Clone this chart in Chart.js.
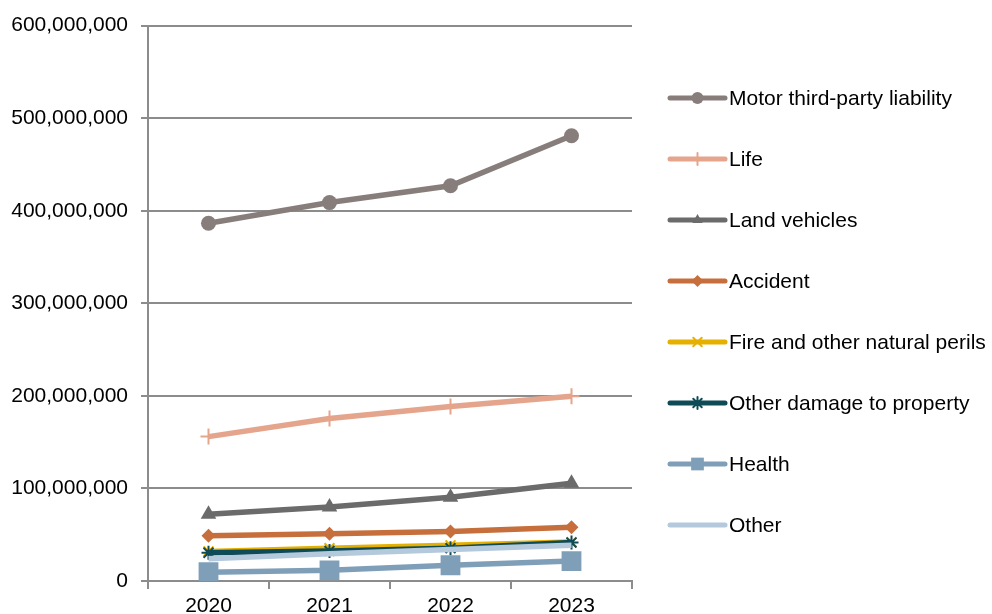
<!DOCTYPE html>
<html>
<head>
<meta charset="utf-8">
<script src="https://cdn.jsdelivr.net/npm/chart.js@4/dist/chart.umd.min.js"></script>
<style>
  html, body { margin: 0; padding: 0; background: #fff; }
  #wrap { width: 992px; height: 614px; position: relative; }
</style>
</head>
<body>
<div id="wrap"><canvas id="chart" width="992" height="614"></canvas></div>
<script>
// --- data ---------------------------------------------------------------
const years = ['2020', '2021', '2022', '2023'];

const seriesNames = [
    'Motor third-party liability',
    'Life',
    'Land vehicles',
    'Accident',
    'Fire and other natural perils',
    'Other damage to property',
    'Health',
    'Other'
];

const motorTpl     = [386500000, 408800000, 427000000, 481000000];
const life         = [156000000, 175500000, 188500000, 199500000];
const landVehicles = [72000000, 80000000, 90500000, 105500000];
const accident     = [48800000, 51000000, 53500000, 58000000];
const firePerils   = [32000000, 35500000, 38500000, 42000000];
const otherDamage  = [30500000, 32500000, 35500000, 41500000];
const health       = [9500000, 11500000, 17000000, 21500000];
const other        = [24000000, 29500000, 34000000, 38500000];

const yTicks = [0, 100000000, 200000000, 300000000, 400000000, 500000000, 600000000];

// --- styles ---------------------------------------------------------------
const FONT = '"Liberation Sans", Arial, sans-serif';
const GRID = '#8c8c8c';

const styles = [
    { color: '#877e7c', point: 'circle',   radius: 7.5, legendRadius: 6 },
    { color: '#e5a58c', point: 'cross',    radius: 8,   legendRadius: 6 },
    { color: '#6b6b6b', point: 'triangle', radius: 9,   legendRadius: 6 },
    { color: '#c76f3c', point: 'rectRot',  radius: 7,   legendRadius: 6 },
    { color: '#e6b000', point: 'crossRot', radius: 7,   legendRadius: 6 },
    { color: '#0f4b57', point: 'star',     radius: 7,   legendRadius: 6 },
    { color: '#7f9fb9', point: 'rect',     radius: 14,  legendRadius: 9 },
    { color: '#b5c9dd', point: false,      radius: 0,   legendRadius: 0 }
];

const values = [motorTpl, life, landVehicles, accident, firePerils, otherDamage, health, other];

const strokeMarker = p => p === 'cross' || p === 'crossRot' || p === 'star';

const datasets = values.map((v, i) => ({
    label: seriesNames[i],
    data: v,
    borderColor: styles[i].color,
    backgroundColor: styles[i].color,
    pointBackgroundColor: styles[i].color,
    pointBorderColor: styles[i].color,
    pointBorderWidth: strokeMarker(styles[i].point) ? 2 : 0,
    pointStyle: styles[i].point,
    pointRadius: styles[i].radius,
    borderWidth: 5.5,
    tension: 0,
    // later series painted on top
    order: values.length - i
}));

// --- legend on the right: line sample with the marker in the middle --------
const sideLegend = {
    id: 'sideLegend',
    afterDraw(chart) {
        const ctx = chart.ctx;
        const x0 = 670, x1 = 725, top = 98, step = 61;
        ctx.save();
        datasets.forEach((ds, i) => {
            const y = top + i * step;
            ctx.strokeStyle = ds.borderColor;
            ctx.fillStyle = ds.borderColor;
            ctx.lineWidth = 5;
            ctx.lineCap = 'round';
            ctx.beginPath();
            ctx.moveTo(x0, y);
            ctx.lineTo(x1, y);
            ctx.stroke();
            if (ds.pointStyle) {
                ctx.lineWidth = ds.pointBorderWidth || 1;
                Chart.helpers.drawPoint(ctx, {
                    pointStyle: ds.pointStyle,
                    radius: styles[i].legendRadius,
                    borderWidth: ds.pointBorderWidth || 0
                }, (x0 + x1) / 2, y);
            }
            ctx.fillStyle = '#000';
            ctx.font = '21px ' + FONT;
            ctx.textBaseline = 'middle';
            ctx.textAlign = 'left';
            ctx.fillText(ds.label, x1 + 4, y + 1);
        });
        ctx.restore();
    }
};

new Chart(document.getElementById('chart'), {
    type: 'line',
    data: { labels: years, datasets },
    plugins: [sideLegend],
    options: {
        responsive: false,
        animation: false,
        layout: { padding: { top: 18, right: 360, left: 0, bottom: 0 } },
        plugins: {
            legend: { display: false },
            tooltip: { enabled: false }
        },
        scales: {
            x: {
                offset: true,
                grid: {
                    offset: true,
                    drawOnChartArea: false,
                    color: GRID,
                    lineWidth: 2,
                    tickLength: 8
                },
                border: { color: GRID, width: 2 },
                ticks: { color: '#000', font: { family: FONT, size: 21 }, padding: 5, maxRotation: 0 },
                afterFit(scale) { scale.height = 33; }
            },
            y: {
                min: 0,
                max: 600000000,
                afterBuildTicks(scale) { scale.ticks = yTicks.map(v => ({ value: v })); },
                grid: { color: GRID, lineWidth: 2, tickLength: 7 },
                border: { color: GRID, width: 2 },
                ticks: {
                    color: '#000',
                    font: { family: FONT, size: 21 },
                    padding: 13,
                    callback: v => v.toLocaleString('en-US')
                },
                afterFit(scale) { scale.width = 148; }
            }
        }
    }
});
</script>
</body>
</html>
